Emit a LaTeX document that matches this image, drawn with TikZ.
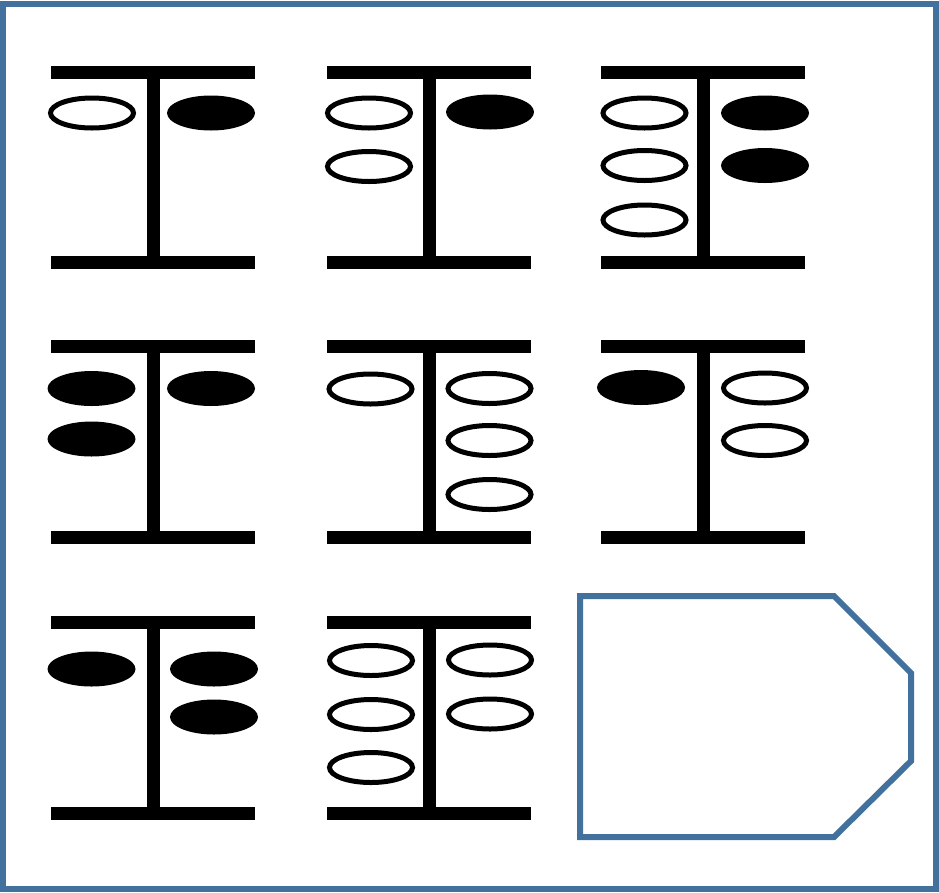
\documentclass[tikz,border=0pt]{standalone}
\usepackage{tikz}
\definecolor{frameblue}{RGB}{65,113,156}

\begin{document}
\begin{tikzpicture}[x=1pt,y=-1pt,
  frame/.style={draw=frameblue,line width=6pt},
  openoval/.style={draw=black,line width=5pt},
  fulloval/.style={fill=black}]
  \useasboundingbox (0,0) rectangle (939,892);
  \draw[frame] (3,3.5) rectangle (936,889);
  % I-beams: stem x / top bar y / bottom bar y
  \foreach \bx/\ty/\by in {153.5/72.5/262.5, 429.5/72.5/262.5, 703.5/72.5/262.5,
                           153.5/346.5/537.5, 429.5/346.5/537.5, 703.5/346.5/537.5,
                           153.5/622.5/813.5, 429.5/622.5/813.5} {
    \fill (\bx-102.5,\ty-6.5) rectangle (\bx+101.5,\ty+6.5);
    \fill (\bx-102.5,\by-6.5) rectangle (\bx+101.5,\by+6.5);
    \fill (\bx-6.5,\ty) rectangle (\bx+6.5,\by);
  }
  % open ovals
  \foreach \ox/\oy in {92/113, 369/113, 369/166.5, 644.5/113, 644.5/165.5, 644.5/220,
                       370.5/389, 489.5/388.5, 489.5/440.5, 489.5/494.5,
                       765/388, 765/440.5,
                       371/660.5, 371/714.5, 371/767.5, 490/660, 490/714}
    \draw[openoval] (\ox,\oy) ellipse [x radius=41.5pt,y radius=15pt];
  % filled ovals
  \foreach \fx/\fy in {211/113, 490/112, 765/113, 765/165.5,
                       91.5/388.5, 91.5/439, 211/388.5, 641/387.5,
                       91.5/669, 214/669, 214/717}
    \fill[fulloval] (\fx,\fy) ellipse [x radius=44pt,y radius=17.5pt];
  % empty tag in the last cell
  \draw[frame] (580,596) -- (834,596) -- (911,673) -- (911,761) -- (834,837) -- (580,837) -- cycle;
\end{tikzpicture}
\end{document}
